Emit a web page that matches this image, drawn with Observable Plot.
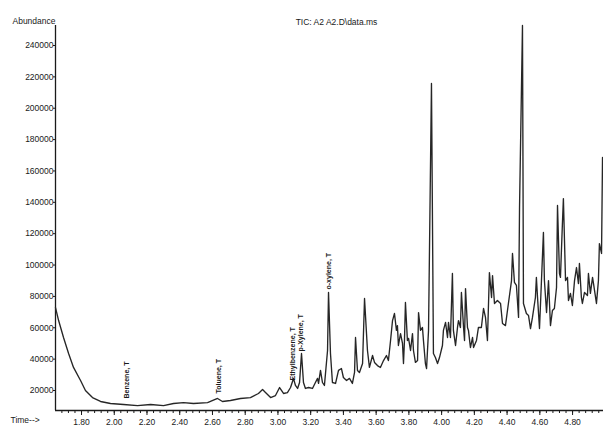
<!DOCTYPE html>
<html>
<head>
<meta charset="utf-8">
<script src="https://cdn.jsdelivr.net/npm/d3@7"></script>
<script src="https://cdn.jsdelivr.net/npm/@observablehq/plot@0.6"></script>
<style>
  html, body { margin: 0; padding: 0; background: #fff; overflow: hidden; }
</style>
</head>
<body>
<div id="chart"></div>
<script>
// Retention time (min)
const times = [
  1.641, 1.660, 1.690, 1.721, 1.751, 1.794, 1.824, 1.867, 1.916, 1.977,
  2.057, 2.142, 2.222, 2.301, 2.362, 2.423, 2.484, 2.570, 2.631, 2.661,
  2.710, 2.771, 2.832, 2.881, 2.906, 2.924, 2.955, 2.985, 3.010, 3.034,
  3.058, 3.077, 3.095, 3.107, 3.120, 3.132, 3.144, 3.156, 3.168, 3.187,
  3.211, 3.229, 3.242, 3.248, 3.260, 3.272, 3.284, 3.303, 3.309, 3.321,
  3.333, 3.352, 3.370, 3.388, 3.400, 3.419, 3.437, 3.455, 3.468, 3.474,
  3.486, 3.498, 3.517, 3.529, 3.547, 3.559, 3.578, 3.590, 3.608, 3.626,
  3.645, 3.663, 3.675, 3.688, 3.700, 3.712, 3.724, 3.730, 3.736, 3.749,
  3.761, 3.767, 3.773, 3.779, 3.791, 3.798, 3.810, 3.822, 3.828, 3.840,
  3.853, 3.859, 3.871, 3.883, 3.889, 3.901, 3.908, 3.920, 3.938, 3.950,
  3.962, 3.975, 3.987, 4.005, 4.011, 4.024, 4.036, 4.042, 4.054, 4.066,
  4.072, 4.085, 4.097, 4.103, 4.115, 4.121, 4.134, 4.140, 4.146, 4.158,
  4.164, 4.176, 4.189, 4.195, 4.213, 4.225, 4.243, 4.256, 4.268, 4.280,
  4.292, 4.305, 4.311, 4.323, 4.341, 4.360, 4.372, 4.390, 4.408, 4.427,
  4.433, 4.445, 4.457, 4.470, 4.476, 4.494, 4.500, 4.518, 4.531, 4.543,
  4.555, 4.573, 4.579, 4.586, 4.598, 4.610, 4.622, 4.628, 4.641, 4.653,
  4.665, 4.677, 4.689, 4.702, 4.708, 4.720, 4.726, 4.738, 4.744, 4.757,
  4.769, 4.775, 4.787, 4.799, 4.812, 4.824, 4.836, 4.842, 4.854, 4.860,
  4.873, 4.891, 4.897, 4.909, 4.922, 4.928, 4.946, 4.958, 4.964, 4.977,
  4.983
];

// Total ion current abundance
const abundance = [
  72900, 64600, 53800, 43600, 34700, 26400, 20000, 15500, 13000, 11700,
  11100, 10400, 11100, 10400, 11700, 12300, 11700, 12300, 14900, 13000,
  13600, 14900, 15500, 18100, 20600, 18700, 15500, 16800, 21900, 18100,
  18700, 21900, 27700, 23200, 21300, 25100, 43600, 25100, 21300, 21900,
  21300, 25100, 27700, 24500, 32800, 25100, 23200, 45500, 82500, 43600,
  25100, 24500, 32800, 34000, 28300, 26400, 27700, 24500, 31500, 53800,
  32800, 31500, 37200, 78700, 45500, 34700, 42300, 37900, 35900, 34700,
  39100, 42300, 39100, 51900, 64600, 69100, 58300, 61400, 48700, 56300,
  50000, 37200, 51900, 76100, 51900, 53200, 45500, 56300, 45500, 37900,
  39100, 69700, 58300, 60200, 51900, 37200, 34000, 58300, 215800, 43600,
  41000, 37200, 41000, 48700, 58300, 63400, 53800, 63400, 53800, 94600,
  58300, 48700, 60200, 64600, 60200, 82500, 60200, 51900, 85000, 60200,
  58300, 47400, 53800, 47400, 51900, 60200, 60200, 72300, 66600, 51900,
  95200, 79300, 93300, 75500, 77400, 75500, 62700, 61400, 75500, 90100,
  107400, 88900, 87000, 66600, 136700, 252800, 75500, 69100, 67800, 59500,
  66600, 79300, 92100, 79300, 59500, 90100, 120800, 90100, 69700, 90100,
  61400, 71000, 72300, 85700, 138000, 94600, 92100, 126500, 142400, 90100,
  92100, 77400, 81900, 74200, 90100, 98400, 88200, 101000, 79300, 75500,
  82500, 80600, 94600, 81900, 92100, 88200, 75500, 90100, 113700, 107400,
  168600
];

// Peak annotations
const peakNames = ["Benzene, T", "Toluene, T", "Ethylbenzene, T", "p-Xylene, T", "o-xylene, T"];
const peakTimes = [2.075, 2.637, 3.089, 3.138, 3.309];
const peakLabelAbundance = [14900, 18100, 26400, 44900, 84400];

// Axis ticks
const xTicks = [1.8, 2.0, 2.2, 2.4, 2.6, 2.8, 3.0, 3.2, 3.4, 3.6, 3.8, 4.0, 4.2, 4.4, 4.6, 4.8];
const xMinorTicks = d3.range(42, 125).map(i => i * 0.04);
const yTicks = [20000, 40000, 60000, 80000, 100000, 120000, 140000, 160000, 180000, 200000, 220000, 240000];

const xDomain = [1.641, 4.989];
const yDomain = [7245, 252755];

const trace = times.map((t, i) => ({time: t, abundance: abundance[i]}));
const peaks = peakNames.map((name, i) => ({name, time: peakTimes[i], abundance: peakLabelAbundance[i]}));

const chart = Plot.plot({
  width: 603,
  height: 426,
  marginLeft: 55,
  marginRight: 0,
  marginTop: 25,
  marginBottom: 16,
  style: {
    fontFamily: "'Liberation Sans', Arial, sans-serif",
    fontSize: "8.5px",
    color: "#1a1a1a",
    background: "#fff"
  },
  x: {domain: xDomain, label: null},
  y: {domain: yDomain, label: null},
  marks: [
    Plot.axisX(xMinorTicks.filter(d => d >= xDomain[0] && d <= xDomain[1]), {tickSize: 3, tickFormat: () => "", label: null}),
    Plot.axisX(xTicks, {tickSize: 5, tickPadding: 3, tickFormat: d => d.toFixed(2), label: null}),
    Plot.axisY(yTicks, {tickSize: 2, tickPadding: 0, tickFormat: d => String(d), label: null}),
    Plot.ruleX([xDomain[0]], {stroke: "#1a1a1a", strokeWidth: 1.3}),
    Plot.ruleY([yDomain[0]], {stroke: "#1a1a1a", strokeWidth: 1.3}),
    Plot.line(trace, {x: "time", y: "abundance", stroke: "#262626", strokeWidth: 1.35, curve: "linear"}),
    Plot.text(peaks, {
      x: "time", y: "abundance", text: "name",
      rotate: -90, textAnchor: "start", fontSize: 7, fontWeight: "bold", fill: "#1a1a1a"
    }),
    Plot.text(["Abundance"], {frameAnchor: "top-left", textAnchor: "end", dx: 0, dy: -8, fontSize: 8.5, fill: "#1a1a1a"}),
    Plot.text(["TIC: A2 A2.D\\data.ms"], {frameAnchor: "top", dx: 7, dy: -7, fontSize: 8.5, fill: "#1a1a1a"}),
    Plot.text(["Time-->"], {frameAnchor: "bottom-left", textAnchor: "start", dx: -45, dy: 12, fontSize: 8.5, fill: "#1a1a1a"})
  ]
});

document.getElementById("chart").appendChild(chart);
</script>
</body>
</html>
